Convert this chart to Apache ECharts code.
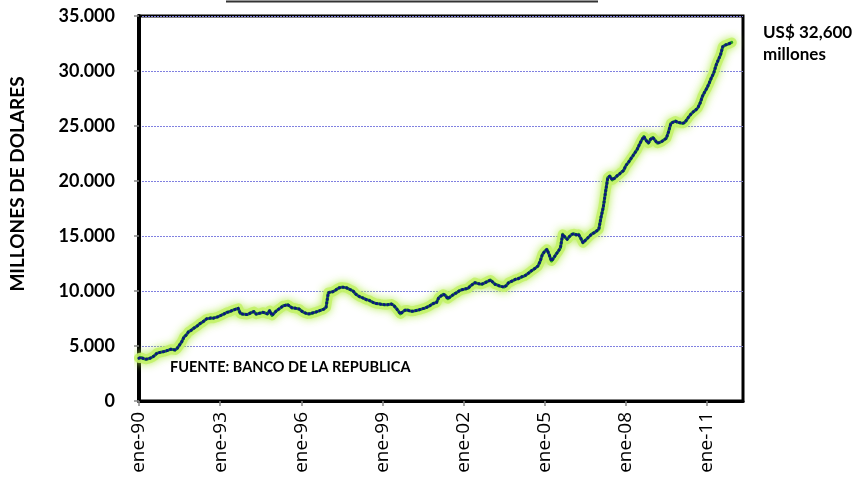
<!DOCTYPE html>
<html>
<head>
<meta charset="utf-8">
<script src="https://cdn.jsdelivr.net/npm/echarts@6/dist/echarts.min.js"></script>
<style>
html,body{margin:0;padding:0;background:#fff;}
#chart{width:857px;height:479px;}
</style>
</head>
<body>
<div id="chart"></div>
<script>
// Month abbreviations for category labels
const monthNames = ["ene","feb","mar","abr","may","jun","jul","ago","sep","oct","nov","dic"];
const firstYear = 1990;
const lastAxisYear = 2012;
const lastAxisMonth = 4; // may-12 (axis extends past data)

// Reserves, millions of USD, monthly
const reserves1990_1993 = [
  3900, 3950, 3850, 3800, 3830, 3900, 4000, 4150, 4350, 4400, 4450, 4490,
  4550, 4620, 4700, 4680, 4640, 4800, 5100, 5400, 5830, 6000, 6300, 6400,
  6580, 6700, 6850, 7030, 7150, 7300, 7470, 7500, 7550, 7530, 7600, 7650,
  7750, 7850, 7950, 8060, 8100, 8200, 8280, 8350, 8420, 7950, 7900, 7880
];
const reserves1994_1997 = [
  7860, 7950, 8050, 8130, 7900, 7950, 8000, 8060, 8000, 7920, 8220, 7780,
  8000, 8200, 8350, 8500, 8660, 8700, 8750, 8600, 8460, 8450, 8400, 8370,
  8200, 8060, 7980, 7920, 7930, 8000, 8060, 8120, 8200, 8280, 8350, 8510,
  9850, 9900, 9940, 10050, 10200, 10300, 10350, 10330, 10300, 10200, 10100, 10000
];
const reserves1998_2001 = [
  9750, 9600, 9470, 9400, 9300, 9200, 9170, 9050, 8950, 8870, 8850, 8810,
  8780, 8760, 8750, 8780, 8810, 8700, 8460, 8200, 7920, 8100, 8250, 8280,
  8200, 8150, 8180, 8230, 8280, 8330, 8400, 8460, 8550, 8650, 8810, 8900,
  8950, 9400, 9550, 9700, 9600, 9300, 9450, 9600, 9750, 9850, 10000, 10100
];
const reserves2002_2005 = [
  10150, 10200, 10240, 10450, 10600, 10760, 10700, 10650, 10610, 10700, 10800, 10900,
  11000, 10800, 10610, 10550, 10450, 10400, 10360, 10500, 10760, 10850, 10950, 11060,
  11100, 11200, 11300, 11360, 11500, 11650, 11820, 11950, 12100, 12270, 12700, 13330,
  13600, 13790, 13300, 12730, 13000, 13330, 13600, 13940, 15150, 14900, 14700, 14950
];
const reserves2006_2009 = [
  15150, 15200, 15100, 15150, 14800, 14390, 14600, 14800, 15000, 15200, 15300, 15450,
  15600, 16700, 17600, 19000, 20300, 20450, 20100, 20250, 20450, 20600, 20800, 20950,
  21400, 21650, 21950, 22250, 22550, 22850, 23300, 23700, 24040, 23700, 23440, 23800,
  23950, 23700, 23440, 23500, 23600, 23750, 23890, 24500, 25240, 25350, 25450, 25330
];
const reserves2010_2011 = [
  25300, 25240, 25300, 25550, 25850, 26100, 26300, 26450, 26660, 27100, 27700, 28100,
  28450, 28900, 29400, 29800, 30500, 31000, 31450, 32200, 32350, 32420, 32500, 32600
];

const yTicks = [0, 5000, 10000, 15000, 20000, 25000, 30000, 35000];

const reserves = [].concat(reserves1990_1993, reserves1994_1997, reserves1998_2001,
                           reserves2002_2005, reserves2006_2009, reserves2010_2011);

const categories = [];
for (let y = firstYear; y <= lastAxisYear; y++) {
  for (let m = 0; m < 12; m++) {
    if (y === lastAxisYear && m > lastAxisMonth) break;
    categories.push(monthNames[m] + "-" + String(y % 100).padStart(2, "0"));
  }
}

const chart = echarts.init(document.getElementById("chart"));
const fontFam = "Lato, 'Open Sans', sans-serif";

chart.setOption({
  animation: false,
  backgroundColor: "#ffffff",
  grid: {
    left: 139, right: 114, top: 16, bottom: 78,
    show: true, borderColor: "#000", borderWidth: 3, backgroundColor: "transparent"
  },
  xAxis: {
    type: "category",
    data: categories,
    boundaryGap: false,
    axisLine: { lineStyle: { color: "#000", width: 3 } },
    axisTick: { interval: 35, length: 5, lineStyle: { color: "#888", width: 1.5 } },
    axisLabel: {
      interval: 35, rotate: 90, margin: 11,
      color: "#000", fontFamily: "'Open Sans', Lato, sans-serif", fontSize: 19
    },
    splitLine: { show: false }
  },
  yAxis: {
    type: "value",
    min: yTicks[0], max: yTicks[yTicks.length - 1], interval: 5000,
    axisLine: { show: true, lineStyle: { color: "#000", width: 4 } },
    axisTick: { show: true, length: 5, lineStyle: { color: "#888", width: 1.5 } },
    axisLabel: {
      margin: 24, color: "#000", fontFamily: fontFam, fontSize: 18, fontWeight: "bold",
      formatter: function (v) {
        return v === 0 ? "0" : String(v).replace(/\B(?=(\d{3})+(?!\d))/g, ".");
      }
    },
    splitLine: { show: true, lineStyle: { color: "#8080e0", width: 1, type: [2, 1] } }
  },
  series: [
    {
      type: "line", data: reserves, symbol: "none", silent: true,
      lineStyle: { width: 10, color: "rgba(195,242,105,0.9)", cap: "round", join: "round",
                   shadowBlur: 8, shadowColor: "rgba(175,235,70,1)" }
    },
    {
      type: "line", data: reserves, symbol: "none", silent: true,
      lineStyle: { width: 3, color: "#1f9a1f", cap: "round", join: "round" }
    },
    {
      type: "line", data: reserves, symbol: "none", silent: true,
      lineStyle: { width: 3, color: "#0c1b7c", type: [0.6, 3.2], cap: "round", join: "round" }
    }
  ],
  graphic: [
    { type: "line", shape: { x1: 226, y1: 1.5, x2: 598, y2: 1.5 },
      style: { stroke: "#333", lineWidth: 2 } },
    { type: "text", x: 18, y: 184, rotation: Math.PI / 2,
      style: { text: "MILLONES DE DOLARES", fill: "#000", font: "bold 19px " + fontFam,
               textAlign: "center", textVerticalAlign: "middle" } },
    { type: "text", x: 763, y: 22,
      style: { text: "US$ 32,600\nmillones", fill: "#000", font: "bold 17px " + fontFam,
               lineHeight: 22, textAlign: "left", textVerticalAlign: "top" } },
    { type: "text", x: 170, y: 367,
      style: { text: "FUENTE: BANCO DE LA REPUBLICA", fill: "#000", font: "bold 14.5px " + fontFam,
               textAlign: "left", textVerticalAlign: "middle" } }
  ]
});
</script>
</body>
</html>
